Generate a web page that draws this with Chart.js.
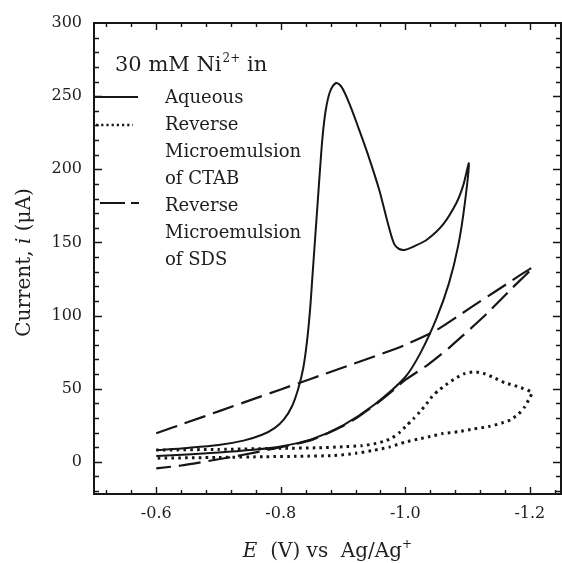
<!DOCTYPE html>
<html>
<head>
<meta charset="utf-8">
<script src="https://cdn.jsdelivr.net/npm/chart.js@4.4.1/dist/chart.umd.min.js"></script>
<style>
  html, body { margin: 0; padding: 0; background: #fff; }
  #c { display: block; }
</style>
</head>
<body>
<canvas id="c" width="562" height="563"></canvas>
<script>
// Cyclic voltammograms of 30 mM Ni2+ : potential E (V vs Ag/Ag+) and current i (µA)

// Aqueous solution (solid line): forward sweep with the deposition peak, then the return sweep
const aqueousE = [-0.60, -0.65, -0.70, -0.74, -0.77, -0.79, -0.805, -0.818, -0.828, -0.836, -0.842, -0.847,
  -0.851, -0.855, -0.859, -0.863, -0.867, -0.872, -0.879, -0.889, -0.898, -0.910, -0.925, -0.940, -0.958,
  -0.972, -0.982, -0.990, -1.000, -1.015, -1.035, -1.060, -1.082, -1.093, -1.102,
  -1.095, -1.085, -1.070, -1.050, -1.025, -1.000, -0.950, -0.900, -0.850, -0.800, -0.750, -0.700, -0.650, -0.600];
const aqueousI = [8, 9.5, 11.5, 14.5, 18.5, 23, 29, 38, 50, 64, 82, 104,
  128, 152, 176, 200, 222, 240, 253, 259, 256, 245, 228, 210, 186,
  163, 149, 145.5, 145, 147.5, 152, 162, 177, 189, 204,
  175, 148, 122, 98, 75, 58, 39, 25, 15.5, 10.5, 8, 6.3, 5, 4];

// Reverse microemulsion of CTAB (dotted line)
const ctabE = [-0.60, -0.70, -0.80, -0.86, -0.90, -0.93, -0.95, -0.965, -0.979, -0.990, -1.002, -1.013,
  -1.023, -1.034, -1.043, -1.053, -1.065, -1.079, -1.095, -1.111, -1.125, -1.142, -1.160, -1.180, -1.203,
  -1.198, -1.192, -1.182, -1.169, -1.155, -1.134, -1.110, -1.085, -1.060, -1.040, -1.020, -1.000, -0.975,
  -0.950, -0.920, -0.885, -0.830, -0.775, -0.700, -0.600];
const ctabI = [8, 8.5, 9.2, 9.6, 10.3, 11, 12.3, 13.9, 16.4, 19.8, 24.8, 29.4,
  34, 39.6, 44.6, 48.7, 52.6, 56.7, 60.3, 61.5, 60.5, 57.6, 54, 51.5, 47.4,
  42.4, 37.8, 32.8, 28.7, 26.5, 24.1, 22.5, 20.6, 19.3, 17.3, 15.5, 13.5, 10.2,
  7.9, 5.8, 4.3, 3.8, 3.5, 3, 2.5];

// Reverse microemulsion of SDS (dashed line)
const sdsE = [-0.60, -0.65, -0.70, -0.75, -0.80, -0.85, -0.90, -0.95, -1.00, -1.05, -1.10, -1.15, -1.205,
  -1.172, -1.126, -1.0725, -1.035, -1.000, -0.975, -0.950, -0.925, -0.900, -0.850, -0.800,
  -0.760, -0.720, -0.680, -0.640, -0.600];
const sdsI = [19.5, 27, 34.5, 42, 49.5, 57, 64.5, 72, 80, 90, 104, 118, 133,
  119, 99.3, 78.8, 66, 56, 47, 38.5, 31, 24.5, 15, 10,
  6.5, 3.2, 0.3, -2.5, -4.5];

// Axis tick labels
const xTickValues = [-0.6, -0.8, -1.0, -1.2];
const yTickValues = [0, 50, 100, 150, 200, 250, 300];

const INK = '#161616';
const TEXT = '#1e1e1e';
const SERIF = '"DejaVu Serif", "Liberation Serif", serif';

const toPoints = (E, I) => E.map((e, k) => ({ x: e, y: I[k] }));

// Frame, inward ticks, legend block and axis titles
const decorations = {
  id: 'decorations',
  afterDraw(chart) {
    const { ctx, chartArea: a, scales } = chart;
    const xs = scales.x, ys = scales.y;
    ctx.save();
    ctx.strokeStyle = INK;
    ctx.lineWidth = 1.4;
    ctx.beginPath();
    // x ticks every 0.04 V, longer at labelled values
    for (let k = 13; k <= 31; k++) {
      const v = -k * 0.04;
      const px = Math.round(xs.getPixelForValue(v)) + 0.5;
      const major = xTickValues.some(t => Math.abs(t - v) < 1e-6);
      const len = major ? 7 : 4;
      ctx.moveTo(px, a.bottom); ctx.lineTo(px, a.bottom - len);
      ctx.moveTo(px, a.top); ctx.lineTo(px, a.top + len);
    }
    // y ticks every 10 µA, longer every 50
    for (let v = -20; v < 300; v += 10) {
      const py = Math.round(ys.getPixelForValue(v)) + 0.5;
      const len = v % 50 === 0 ? 8 : 5;
      ctx.moveTo(a.left, py); ctx.lineTo(a.left + len, py);
      ctx.moveTo(a.right, py); ctx.lineTo(a.right - len, py);
    }
    ctx.stroke();

    // frame
    ctx.lineWidth = 2;
    ctx.strokeRect(a.left, a.top, a.right - a.left, a.bottom - a.top);

    // legend title: 30 mM Ni2+ in
    ctx.fillStyle = TEXT;
    ctx.textBaseline = 'alphabetic';
    ctx.textAlign = 'left';
    let x = 115;
    const yT = 71;
    ctx.font = '21px ' + SERIF;
    ctx.fillText('30 mM Ni', x, yT);
    x += ctx.measureText('30 mM Ni').width + 1;
    ctx.font = '12px ' + SERIF;
    ctx.fillText('2+', x, yT - 9);
    x += ctx.measureText('2+').width;
    ctx.font = '21px ' + SERIF;
    ctx.fillText(' in', x, yT);

    // legend samples
    const sx0 = a.left + 1, sx1 = 138;
    ctx.lineWidth = 2;
    ctx.setLineDash([]);
    ctx.beginPath(); ctx.moveTo(sx0, 97); ctx.lineTo(sx1, 97); ctx.stroke();
    ctx.lineWidth = 2.6;
    ctx.setLineDash([2.2, 3]);
    ctx.beginPath(); ctx.moveTo(sx0 + 1, 125); ctx.lineTo(133, 125); ctx.stroke();
    ctx.lineWidth = 2.2;
    ctx.setLineDash([25, 6]);
    ctx.beginPath(); ctx.moveTo(100, 203); ctx.lineTo(139, 203); ctx.stroke();
    ctx.setLineDash([]);

    // legend texts
    ctx.font = '18px ' + SERIF;
    const lines = [['Aqueous', 103], ['Reverse', 130], ['Microemulsion', 157], ['of CTAB', 184],
                   ['Reverse', 211], ['Microemulsion', 238], ['of SDS', 265]];
    lines.forEach(([t, y]) => ctx.fillText(t, 165, y));

    // x axis title: E (V) vs Ag/Ag+
    const xParts = [['italic 20px ', 'E'], ['20px ', '  (V) vs  Ag/Ag']];
    let w = 0;
    xParts.forEach(([f, t]) => { ctx.font = f + SERIF; w += ctx.measureText(t).width; });
    ctx.font = '12px ' + SERIF; w += ctx.measureText('+').width;
    x = (a.left + a.right) / 2 - w / 2;
    const yX = 557;
    xParts.forEach(([f, t]) => { ctx.font = f + SERIF; ctx.fillText(t, x, yX); x += ctx.measureText(t).width; });
    ctx.font = '12px ' + SERIF; ctx.fillText('+', x, yX - 9);

    // y axis title: Current, i (µA)
    ctx.save();
    ctx.translate(25, (a.top + a.bottom) / 2 + 4);
    ctx.rotate(-Math.PI / 2);
    ctx.textBaseline = 'middle';
    const yParts = [['20px ', 'Current, '], ['italic 20px ', 'i'], ['20px ', ' (\u03bcA)']];
    w = 0;
    yParts.forEach(([f, t]) => { ctx.font = f + SERIF; w += ctx.measureText(t).width; });
    x = -w / 2;
    yParts.forEach(([f, t]) => { ctx.font = f + SERIF; ctx.fillText(t, x, 0); x += ctx.measureText(t).width; });
    ctx.restore();

    ctx.restore();
  }
};

new Chart(document.getElementById('c'), {
  type: 'line',
  data: {
    datasets: [
      {
        label: 'Aqueous',
        data: toPoints(aqueousE, aqueousI),
        borderColor: INK, borderWidth: 2, tension: 0.3,
        pointRadius: 0, fill: false
      },
      {
        label: 'Reverse Microemulsion of CTAB',
        data: toPoints(ctabE, ctabI),
        borderColor: INK, borderWidth: 3, tension: 0.2,
        borderDash: [2.6, 4.2],
        pointRadius: 0, fill: false
      },
      {
        label: 'Reverse Microemulsion of SDS',
        data: toPoints(sdsE, sdsI),
        borderColor: INK, borderWidth: 2.2, tension: 0.2,
        borderDash: [22, 8],
        pointRadius: 0, fill: false
      }
    ]
  },
  options: {
    responsive: false,
    devicePixelRatio: 1,
    animation: false,
    layout: { padding: { top: 23, right: 1, left: 0, bottom: 0 } },
    plugins: { legend: { display: false }, tooltip: { enabled: false } },
    scales: {
      x: {
        type: 'linear',
        min: -1.25, max: -0.5,
        reverse: true,
        grid: { display: false, drawTicks: false },
        border: { display: false },
        afterBuildTicks: s => { s.ticks = xTickValues.map(v => ({ value: v })); },
        afterFit: s => { s.height = 69; },
        ticks: {
          padding: 10,
          color: TEXT,
          font: { family: SERIF, size: 16 },
          callback: v => Number(v).toFixed(1)
        }
      },
      y: {
        min: -22, max: 300,
        grid: { display: false, drawTicks: false },
        border: { display: false },
        afterBuildTicks: s => { s.ticks = yTickValues.map(v => ({ value: v })); },
        afterFit: s => { s.width = 94; },
        ticks: {
          padding: 12,
          color: TEXT,
          font: { family: SERIF, size: 16 },
          callback: v => String(v)
        }
      }
    }
  },
  plugins: [decorations]
});
</script>
</body>
</html>
